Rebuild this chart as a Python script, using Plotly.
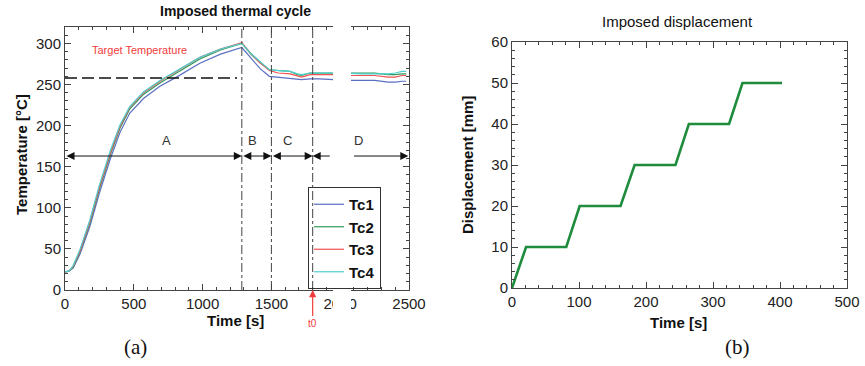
import plotly.graph_objects as go

# ---------------- Data: panel (a) thermal cycle ----------------
time_a = [0, 30, 60, 110, 180, 250, 330, 400, 470, 570, 690, 810, 980, 1130, 1285,
          1350, 1420, 1485, 1550, 1635, 1690, 1720, 1780, 1850, 1950, 2050, 2150,
          2250, 2350, 2400, 2450, 2480]
tc1 = [22, 23, 27, 44, 77, 118, 160, 192, 215, 233, 248, 259, 276, 287, 295,
       282, 269, 260, 259, 257, 256, 256, 257, 257, 256, 255, 255, 255, 253, 253, 254, 254]
tc2 = [22, 23, 28, 47, 81, 123, 165, 197, 220, 238, 252, 264, 281, 292, 300,
       287, 276, 268, 267, 266, 262, 261, 264, 264, 264, 264, 264, 264, 262, 262, 263, 263]
tc3 = [22, 23, 29, 48, 83, 125, 167, 199, 222, 240, 254, 266, 283, 293, 301,
       288, 276, 267, 264, 263, 260, 259, 262, 262, 262, 261, 261, 261, 259, 259, 261, 261]
tc4 = [22, 23, 30, 50, 85, 128, 170, 201, 223, 241, 255, 267, 283, 293, 300,
       288, 277, 268, 267, 266, 263, 262, 264, 264, 264, 264, 263, 263, 263, 264, 266, 266]
series_names = ["Tc1", "Tc2", "Tc3", "Tc4"]
series_colors = ["#5a6fc0", "#2e9a5a", "#f05050", "#4fd0d0"]

target_temp = 258
phase_bounds = [0, 1285, 1500, 1800, 2495]
phase_labels = ["A", "B", "C", "D"]
phase_label_t = [740, 1360, 1615, 2130]
t0_a = 1800

# ---------------- Data: panel (b) displacement ----------------
time_b = [0, 21, 81, 101, 162, 183, 244, 264, 324, 344, 403]
disp_b = [0, 10, 10, 20, 20, 30, 30, 40, 40, 50, 50]

W, H = 865, 366
def px(x):
    return x / W
def py(y):
    return 1 - y / H

fig = go.Figure()
for name, col, ys in zip(series_names, series_colors, [tc1, tc2, tc3, tc4]):
    fig.add_trace(go.Scatter(x=time_a, y=ys, mode="lines", name=name,
                             line=dict(color=col, width=1.2), xaxis="x", yaxis="y"))

fig.add_trace(go.Scatter(x=time_b, y=disp_b, mode="lines", showlegend=False,
                         line=dict(color="#1e8c3c", width=2.6), xaxis="x2", yaxis="y2"))

axis_common = dict(showline=True, linecolor="#444", linewidth=1, mirror="allticks",
                   ticks="inside", ticklen=6, tickcolor="#444", showgrid=False,
                   zeroline=False, automargin=False,
                   tickfont=dict(family="Liberation Sans, Arial", size=15, color="#222"))

fig.update_layout(
    width=W, height=H, margin=dict(l=0, r=0, t=0, b=0, autoexpand=False),
    paper_bgcolor="white", plot_bgcolor="white",
    xaxis=dict(domain=[px(65), px(409)], range=[0, 2500], dtick=500,
               minor=dict(dtick=100, ticks="inside", ticklen=3, tickcolor="#444"),
               anchor="y", **axis_common),
    yaxis=dict(domain=[py(290), py(27)], range=[0, 320], dtick=50,
               minor=dict(dtick=10, ticks="inside", ticklen=3, tickcolor="#444"),
               anchor="x", **axis_common),
    xaxis2=dict(domain=[px(512), px(847)], range=[0, 500], dtick=100,
                minor=dict(dtick=20, ticks="inside", ticklen=3, tickcolor="#444"),
                anchor="y2", **axis_common),
    yaxis2=dict(domain=[py(288), py(42)], range=[0, 60], dtick=10,
                minor=dict(dtick=2, ticks="inside", ticklen=3, tickcolor="#444"),
                anchor="x2", **axis_common),
    legend=dict(x=px(308), y=py(187), xanchor="left", yanchor="top",
                bordercolor="#333", borderwidth=1, bgcolor="rgba(255,255,255,0)",
                font=dict(family="Liberation Sans, Arial", size=15, color="#111", weight="bold"),
                tracegroupgap=0, itemwidth=30),
    showlegend=True,
)

shapes = []
shapes.append(dict(type="line", xref="x", yref="y", x0=0, x1=1250, y0=target_temp, y1=target_temp,
                   line=dict(color="#111", width=1.5, dash="12px,5px")))
for tb in phase_bounds[1:4]:
    shapes.append(dict(type="line", xref="x", yref="y", x0=tb, x1=tb, y0=0, y1=320,
                       line=dict(color="#444", width=1, dash="dashdot")))
# white gap block (artifact of the original image)
shapes.append(dict(type="rect", xref="paper", yref="paper", x0=px(333), x1=px(351),
                   y0=py(310), y1=py(20), fillcolor="white", line=dict(width=0), layer="above"))
fig.update_layout(shapes=shapes)

ann = []
arrow_y = 163
segs = [(phase_bounds[0], phase_bounds[1]),
        (phase_bounds[1], phase_bounds[2]),
        (phase_bounds[2], phase_bounds[3])]
for a, b in segs:
    ann.append(dict(x=b, y=arrow_y, ax=a, ay=arrow_y, xref="x", yref="y", axref="x", ayref="y",
                    text="", showarrow=True, arrowhead=2, startarrowhead=2, arrowside="end+start",
                    arrowsize=1.6, startarrowsize=1.6, arrowwidth=1, arrowcolor="#111"))
ann.append(dict(x=phase_bounds[3], y=arrow_y, ax=1935, ay=arrow_y, xref="x", yref="y", axref="x", ayref="y",
                text="", showarrow=True, arrowhead=2, arrowsize=1.6, arrowwidth=1, arrowcolor="#111"))
ann.append(dict(x=phase_bounds[4], y=arrow_y, ax=2090, ay=arrow_y, xref="x", yref="y", axref="x", ayref="y",
                text="", showarrow=True, arrowhead=2, arrowsize=1.6, arrowwidth=1, arrowcolor="#111"))

def label(x, y, text, font, xref="paper", yref="paper", angle=0):
    return dict(x=x, y=y, xref=xref, yref=yref, text=text, showarrow=False,
                xanchor="center", yanchor="middle", textangle=angle, font=font)

for lab, tl in zip(phase_labels, phase_label_t):
    ann.append(label(tl, 182, lab, dict(family="Liberation Sans, Arial", size=13, color="#333"), "x", "y"))
ann.append(label(538, 292, "Target Temperature",
                 dict(family="Liberation Sans, Arial", size=11, color="#f03c3c"), "x", "y"))
ann.append(dict(x=-22, y=target_temp, xref="x", yref="y", ax=20, ay=-20, text="",
                showarrow=True, arrowhead=2, arrowsize=1.3, arrowwidth=1, arrowcolor="#f03c3c"))
ann.append(dict(x=t0_a, y=0, xref="x", yref="y", ax=0, ay=33, text="t0", showarrow=True,
                arrowhead=2, arrowsize=1.2, arrowwidth=1.2, arrowcolor="#f03c3c", standoff=0,
                font=dict(family="Liberation Sans, Arial", size=10, color="#f03c3c")))
ann.append(dict(x=2, y=-1, xref="x2", yref="y2", ax=21, ay=22, text="t0", showarrow=True,
                arrowhead=2, arrowsize=1.3, arrowwidth=1, arrowcolor="#f03c3c", standoff=0,
                font=dict(family="Liberation Sans, Arial", size=10, color="#f03c3c")))
ann.append(label(px(236), py(11), "<b>Imposed thermal cycle</b>",
                 dict(family="Liberation Sans, Arial", size=14, color="#111")))
ann.append(label(px(677), py(22), "Imposed displacement",
                 dict(family="Liberation Sans, Arial", size=15, color="#111")))
for (x, y, t, rot) in [(236, 320, "Time [s]", 0), (678, 322, "Time [s]", 0),
                       (21, 155, "Temperature [°C]", -90), (468, 165, "Displacement [mm]", -90)]:
    ann.append(label(px(x), py(y), "<b>" + t + "</b>",
                     dict(family="Liberation Sans, Arial", size=15, color="#111"), angle=rot))
ann.append(label(px(135), py(347), "(a)", dict(family="Liberation Serif, Times New Roman", size=21, color="#111")))
ann.append(label(px(737), py(347), "(b)", dict(family="Liberation Serif, Times New Roman", size=21, color="#111")))
fig.update_layout(annotations=ann)

fig.write_html("out.html", config={"displayModeBar": False},
               post_script="document.body.style.margin='0';document.body.style.overflow='hidden';")
